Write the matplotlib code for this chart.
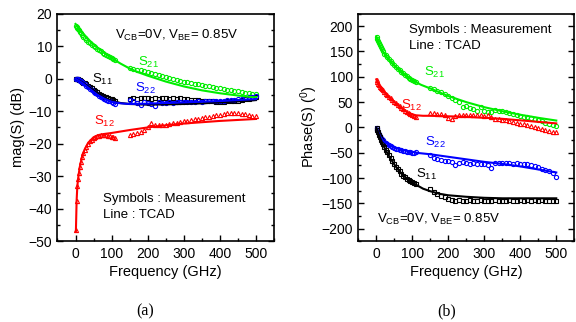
import matplotlib
matplotlib.use("Agg")
import matplotlib.pyplot as plt
from matplotlib.ticker import MultipleLocator

plt.rcParams['font.family'] = ['Liberation Sans', 'DejaVu Sans']
plt.rcParams['mathtext.fontset'] = 'custom'
plt.rcParams['mathtext.rm'] = 'Liberation Sans'
plt.rcParams['mathtext.it'] = 'Liberation Sans:italic'

# ---------------- data ----------------
f_dense = [1, 3, 5, 7, 9, 12, 15, 18, 22, 26, 30, 35, 40, 45, 50, 55, 60, 65, 70, 75, 80, 85, 90, 95, 100, 105, 110]
f_sparse = [150, 160, 170, 180, 190, 200, 210, 220, 230, 240, 250, 260, 270, 280, 290, 300, 310, 320, 330, 340,
            350, 360, 370, 380, 390, 400, 410, 420, 430, 440, 450, 460, 470, 480, 490, 500]

# magnitude (dB) measurement
mag_s21_dense = [16.3, 16.0, 15.6, 15.2, 14.9, 14.4, 13.9, 13.5, 12.9, 12.4, 11.9, 11.4, 10.9, 10.4, 10.0, 9.6, 9.2,
                 8.8, 8.4, 8.0, 7.6, 7.3, 6.9, 6.6, 6.3, 6.0, 5.7]
mag_s21_sparse = [3.4, 3.1, 2.8, 2.5, 2.2, 1.9, 1.6, 1.3, 1.0, 0.8, 0.5, 0.2, -0.1, -0.4, -0.6, -0.9, -1.1, -1.4, -1.6,
                  -1.8, -2.0, -2.2, -2.4, -2.6, -2.8, -3.0, -3.2, -3.4, -3.6, -3.8, -3.9, -4.1, -4.3, -4.4, -4.6, -4.8]
mag_s11_dense = [0.0, -0.05, -0.1, -0.2, -0.3, -0.5, -0.7, -0.9, -1.2, -1.5, -1.8, -2.2, -2.6, -3.0, -3.4, -3.8, -4.2,
                 -4.6, -4.9, -5.2, -5.5, -5.8, -6.0, -6.2, -6.4, -6.6, -6.8]
mag_s11_sparse = [-6.2, -6.0, -6.3, -6.0, -6.1, -5.9, -6.2, -6.0, -6.2, -6.1, -6.0, -6.2, -6.0, -6.3, -6.1, -6.2, -6.4,
                  -6.5, -6.6, -6.7, -6.8, -6.9, -7.0, -7.0, -7.1, -7.1, -7.1, -7.0, -7.0, -6.9, -6.8, -6.6, -6.4,
                  -6.2, -6.0, -5.8]
mag_s22_dense = [0.0, -0.05, -0.1, -0.2, -0.35, -0.6, -0.8, -1.1, -1.4, -1.8, -2.2, -2.6, -3.1, -3.5, -4.0, -4.4, -4.8,
                 -5.2, -5.6, -5.9, -6.2, -6.5, -6.8, -7.0, -7.2, -7.5, -7.8]
mag_s22_sparse = [-6.6, -7.0, -7.4, -8.2, -7.2, -7.5, -7.8, -8.3, -7.2, -7.4, -7.5, -7.3, -7.4, -7.2, -7.3, -7.2, -7.1,
                  -7.2, -7.1, -7.0, -7.1, -7.0, -6.9, -7.0, -6.9, -6.8, -6.8, -6.7, -6.6, -6.5, -6.4, -6.2, -6.0,
                  -5.8, -5.6, -5.4]
mag_s12_dense = [-46.5, -37.5, -33.0, -30.8, -29.0, -27.3, -25.5, -24.2, -22.9, -21.8, -20.9, -20.0, -19.3, -18.8,
                 -18.3, -18.0, -17.7, -17.5, -17.4, -17.3, -17.3, -17.4, -17.5, -17.7, -17.8, -18.0, -18.2]
mag_s12_sparse = [-17.3, -17.1, -16.8, -16.4, -15.8, -14.8, -13.6, -14.2, -14.4, -14.3, -14.1, -13.9, -13.7, -13.5,
                  -13.3, -13.1, -12.9, -12.7, -12.5, -12.3, -12.1, -11.9, -11.7, -11.5, -11.3, -11.1, -10.9, -10.7,
                  -10.6, -10.6, -10.7, -10.9, -11.0, -11.2, -11.4, -11.6]

# magnitude TCAD
f_tc_s21 = [0, 10, 20, 40, 60, 80, 100, 125, 150, 175, 200, 250, 300, 350, 400, 450, 500]
mag_tc_s21 = [16.8, 15.3, 14.0, 11.6, 9.6, 7.9, 6.3, 4.6, 3.1, 1.9, 0.9, -0.9, -2.4, -3.6, -4.5, -5.2, -5.8]
f_tc_s11 = [0, 20, 40, 60, 80, 100, 125, 150, 200, 250, 300, 350, 400, 450, 500]
mag_tc_s11 = [0.0, -1.2, -2.8, -4.4, -5.8, -6.8, -7.5, -7.8, -8.0, -7.9, -7.8, -7.6, -7.3, -7.0, -6.6]
mag_tc_s22 = [0.0, -1.4, -3.2, -4.9, -6.2, -7.1, -7.6, -7.8, -7.7, -7.5, -7.3, -7.1, -6.9, -6.6, -6.3]
f_tc_s12 = [1, 3, 5, 8, 12, 18, 25, 35, 50, 65, 80, 100, 150, 200, 262, 300, 350, 400, 450, 500]
mag_tc_s12 = [-47.0, -37.5, -33.0, -30.0, -27.0, -24.0, -21.8, -19.7, -18.0, -17.3, -17.0, -16.7, -15.8, -15.0,
              -14.2, -13.8, -13.4, -13.0, -12.7, -12.4]

# phase (deg) measurement
ph_s21_dense = [178, 174, 170, 166, 163, 158, 154, 150, 146, 143, 140, 136, 132, 128, 124, 120, 116, 113, 110, 107,
                104, 101, 98, 96, 94, 92, 90]
ph_s21_sparse = [77, 75, 72, 70, 66, 62, 58, 54, 50, 41, 42, 38, 36, 33, 40, 33, 30, 31, 34, 33, 32, 30, 28, 26, 25,
                 23, 21, 20, 18, 16, 14, 12, 9, 7, 4, 2]
ph_s12_dense = [93, 90, 86, 83, 80, 77, 75, 73, 70, 67, 64, 61, 58, 54, 51, 48, 45, 42, 39, 36, 33, 30, 28, 26, 24,
                22, 21]
ph_s12_sparse = [29, 28, 27, 26, 24, 18, 17, 22, 24, 24, 25, 24, 25, 24, 25, 23, 24, 20, 17, 16, 15, 14, 13, 11, 9, 7,
                 6, 4, 2, 0, -2, -4, -6, -7, -9, -10]
ph_s22_dense = [-2, -6, -10, -13, -16, -20, -23, -25, -28, -31, -33, -35, -37, -39, -40, -42, -43, -44, -45, -46, -47,
                -48, -49, -49, -50, -50, -49]
ph_s22_sparse = [-55, -60, -63, -64, -66, -67, -68, -75, -70, -68, -70, -72, -71, -73, -72, -73, -74, -80, -71, -70,
                 -71, -70, -71, -72, -71, -72, -73, -73, -74, -76, -78, -82, -85, -87, -90, -97]
ph_s11_dense = [-2, -6, -10, -14, -18, -24, -29, -33, -39, -44, -49, -55, -61, -66, -73, -78, -83, -87, -91, -95, -98,
                -101, -104, -106, -108, -110, -111]
ph_s11_sparse = [-121, -128, -132, -135, -138, -141, -143, -145, -144, -145, -146, -144, -145, -146, -144, -145, -146,
                 -145, -144, -145, -146, -145, -144, -145, -145, -144, -145, -144, -145, -144, -145, -144, -145, -145,
                 -146, -146]

# phase TCAD
f_tc_ph_s21 = [0, 10, 20, 30, 50, 75, 100, 125, 150, 200, 250, 300, 350, 400, 450, 500]
ph_tc_s21 = [180, 162, 148, 138, 122, 106, 93, 84, 77, 62, 50, 40, 32, 25, 19, 13.6]
f_tc_ph_s12 = [0, 10, 20, 35, 50, 70, 90, 110, 130, 150, 200, 250, 300, 350, 400, 450, 500]
ph_tc_s12 = [95, 80, 71, 60, 50, 38, 28, 24, 23, 23, 22, 21, 19, 17, 14, 11, 8]
f_tc_ph_s22 = [0, 10, 20, 35, 50, 75, 100, 110, 150, 200, 250, 300, 350, 400, 450, 500]
ph_tc_s22 = [0, -17, -27, -35, -40, -45, -48, -50, -53, -58, -63, -68, -72, -77, -83, -89]
f_tc_ph_s11 = [0, 10, 20, 30, 40, 50, 60, 75, 90, 110, 130, 150, 175, 200, 250, 300, 350, 400, 450, 500]
ph_tc_s11 = [0, -20, -36, -50, -62, -73, -83, -95, -104, -113, -121, -126, -131, -134, -137, -139, -140, -140, -140,
             -140]

GREEN = '#00ee00'
RED = '#ff0000'
BLUE = '#0000ff'
BLACK = '#000000'

fig = plt.figure(figsize=(5.76, 3.22), dpi=100)
ax1 = fig.add_axes([0.0998, 0.2505, 0.376, 0.7075])
ax2 = fig.add_axes([0.622, 0.2505, 0.375, 0.7075])

ms = 3.0
mew = 0.8
ANN = 9.5


def meas(ax, fd, yd, fs, ys, color, marker):
    ax.plot(fd, yd, linestyle='none', marker=marker, ms=ms, mew=mew, mfc='none', mec=color, zorder=3)
    ax.plot(fs, ys, linestyle='none', marker=marker, ms=ms, mew=mew, mfc='none', mec=color, zorder=3)


# ---- panel (a)
meas(ax1, f_dense, mag_s21_dense, f_sparse, mag_s21_sparse, GREEN, 'o')
meas(ax1, f_dense, mag_s11_dense, f_sparse, mag_s11_sparse, BLACK, 's')
meas(ax1, f_dense, mag_s22_dense, f_sparse, mag_s22_sparse, BLUE, 'o')
meas(ax1, f_dense, mag_s12_dense, f_sparse, mag_s12_sparse, RED, '^')
ax1.plot(f_tc_s21, mag_tc_s21, color=GREEN, lw=1.5, zorder=4)
ax1.plot(f_tc_s11, mag_tc_s11, color=BLACK, lw=1.5, zorder=4)
ax1.plot(f_tc_s11, mag_tc_s22, color=BLUE, lw=1.5, zorder=4)
ax1.plot(f_tc_s12, mag_tc_s12, color=RED, lw=1.5, zorder=4)

ax1.set_xlim(-50, 550)
ax1.set_ylim(-50, 20)
ax1.set_xticks([0, 100, 200, 300, 400, 500])
ax1.xaxis.set_minor_locator(MultipleLocator(50))
ax1.yaxis.set_major_locator(MultipleLocator(10))
ax1.yaxis.set_minor_locator(MultipleLocator(5))
ax1.set_ylim(-50, 20)
ax1.set_xlabel('Frequency (GHz)', fontsize=10.5, labelpad=3)
ax1.set_ylabel('mag(S) (dB)', fontsize=10.5, labelpad=2)

ax1.text(109, 13.4, r'V$_{\mathrm{CB}}$=0V, V$_{\mathrm{BE}}$= 0.85V', fontsize=ANN, va='center', ha='left')
ax1.text(173, 5.1, r'S$_{\mathrm{21}}$', color=GREEN, fontsize=ANN, va='center', ha='left')
ax1.text(45, -0.4, r'S$_{\mathrm{11}}$', color=BLACK, fontsize=ANN, va='center', ha='left')
ax1.text(165, -2.9, r'S$_{\mathrm{22}}$', color=BLUE, fontsize=ANN, va='center', ha='left')
ax1.text(51, -13.3, r'S$_{\mathrm{12}}$', color=RED, fontsize=ANN, va='center', ha='left')
ax1.text(76, -36.9, 'Symbols : Measurement', fontsize=ANN, va='center', ha='left')
ax1.text(76, -41.9, 'Line : TCAD', fontsize=ANN, va='center', ha='left')

# ---- panel (b)
meas(ax2, f_dense, ph_s21_dense, f_sparse, ph_s21_sparse, GREEN, 'o')
meas(ax2, f_dense, ph_s12_dense, f_sparse, ph_s12_sparse, RED, '^')
meas(ax2, f_dense, ph_s22_dense, f_sparse, ph_s22_sparse, BLUE, 'o')
meas(ax2, f_dense, ph_s11_dense, f_sparse, ph_s11_sparse, BLACK, 's')
ax2.plot(f_tc_ph_s21, ph_tc_s21, color=GREEN, lw=1.5, zorder=4)
ax2.plot(f_tc_ph_s12, ph_tc_s12, color=RED, lw=1.5, zorder=4)
ax2.plot(f_tc_ph_s22, ph_tc_s22, color=BLUE, lw=1.5, zorder=4)
ax2.plot(f_tc_ph_s11, ph_tc_s11, color=BLACK, lw=1.5, zorder=4)

ax2.set_xlim(-50, 550)
ax2.set_xticks([0, 100, 200, 300, 400, 500])
ax2.xaxis.set_minor_locator(MultipleLocator(50))
ax2.yaxis.set_major_locator(MultipleLocator(50))
ax2.yaxis.set_minor_locator(MultipleLocator(25))
ax2.set_ylim(-225, 225)
ax2.set_xlabel('Frequency (GHz)', fontsize=10.5, labelpad=3)
ax2.set_ylabel('Phase(S) ($^{\\mathrm{0}}$)', fontsize=10.5, labelpad=1)

ax2.text(91, 193, 'Symbols : Measurement', fontsize=ANN, va='center', ha='left')
ax2.text(91, 160, 'Line : TCAD', fontsize=ANN, va='center', ha='left')
ax2.text(132, 108, r'S$_{\mathrm{21}}$', color=GREEN, fontsize=ANN, va='center', ha='left')
ax2.text(68, 43, r'S$_{\mathrm{12}}$', color=RED, fontsize=ANN, va='center', ha='left')
ax2.text(134, -30, r'S$_{\mathrm{22}}$', color=BLUE, fontsize=ANN, va='center', ha='left')
ax2.text(109, -93, r'S$_{\mathrm{11}}$', color=BLACK, fontsize=ANN, va='center', ha='left')
ax2.text(2, -182, r'V$_{\mathrm{CB}}$=0V, V$_{\mathrm{BE}}$= 0.85V', fontsize=ANN, va='center', ha='left')

for ax in (ax1, ax2):
    for s in ax.spines.values():
        s.set_linewidth(1.2)
    ax.tick_params(which='both', direction='in', top=False, right=True, labelsize=10, width=1.0)
    ax.tick_params(which='major', length=4, pad=4)
    ax.tick_params(which='minor', length=2.5)

fig.text(145 / 576, 1 - 311 / 322, '(a)', fontsize=11.5, family='Liberation Serif', ha='center', va='center')
fig.text(447 / 576, 1 - 311 / 322, '(b)', fontsize=11.5, family='Liberation Serif', ha='center', va='center')

fig.savefig('out.png', dpi=100)
